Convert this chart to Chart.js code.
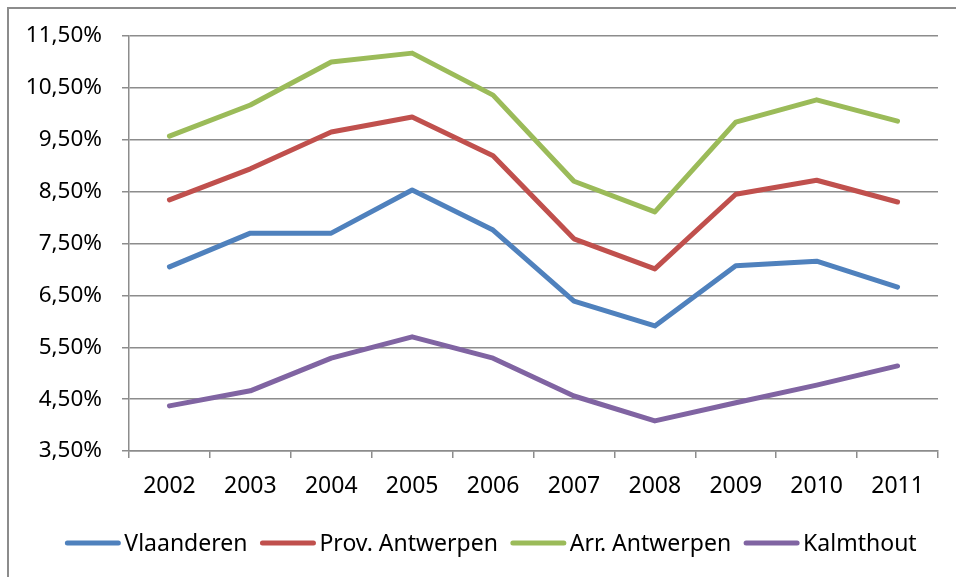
<!DOCTYPE html>
<html>
<head>
<meta charset="utf-8">
<script src="https://cdn.jsdelivr.net/npm/chart.js@4.4.1/dist/chart.umd.min.js"></script>
<style>
  html, body { margin: 0; padding: 0; background: #fff; }
  #wrap { position: relative; width: 956px; height: 577px; overflow: hidden; }
  #frame { position: absolute; left: 7px; top: 7px; width: 2000px; height: 2000px;
           border-left: 2px solid #8c8c8c; border-top: 2px solid #8c8c8c; box-sizing: border-box; }
  canvas { position: absolute; left: 0; top: 0; }
</style>
</head>
<body>
<div id="wrap">
  <div id="frame"></div>
  <canvas id="c" width="956" height="577"></canvas>
</div>
<script>
const categories = ['2002','2003','2004','2005','2006','2007','2008','2009','2010','2011'];
const seriesNames = ['Vlaanderen','Prov. Antwerpen','Arr. Antwerpen','Kalmthout'];
const vlaanderen   = [7.05, 7.70, 7.70, 8.53, 7.76, 6.39, 5.91, 7.07, 7.16, 6.66];
const provAntwerpen = [8.34, 8.94, 9.65, 9.94, 9.19, 7.59, 7.01, 8.45, 8.72, 8.30];
const arrAntwerpen = [9.57, 10.17, 11.00, 11.17, 10.36, 8.70, 8.11, 9.84, 10.27, 9.86];
const kalmthout    = [4.37, 4.66, 5.29, 5.70, 5.29, 4.56, 4.08, 4.43, 4.77, 5.14];
const yTicks = [3.5, 4.5, 5.5, 6.5, 7.5, 8.5, 9.5, 10.5, 11.5];
const colors = ['#4F81BD', '#C0504D', '#9BBB59', '#8064A2'];

const FONT = '"Noto Sans", "Open Sans", sans-serif';
const FS = 23;
const GRID = '#8c8c8c';

const values = [vlaanderen, provAntwerpen, arrAntwerpen, kalmthout];
const datasets = values.map((v, i) => ({
  label: seriesNames[i],
  data: v,
  borderColor: colors[i],
  backgroundColor: colors[i],
  borderWidth: 5,
  pointRadius: 0,
  pointHoverRadius: 0,
  tension: 0,
  fill: false,
  borderCapStyle: 'round',
  borderJoinStyle: 'round'
}));

const legendPlugin = {
  id: 'customLegend',
  afterDraw(chart) {
    const ctx = chart.ctx;
    ctx.save();
    ctx.font = FS + 'px ' + FONT;
    const lineLen = 55, gap1 = 4, gap2 = 13;
    const items = chart.data.datasets.map(d => ({ label: d.label, color: d.borderColor, w: ctx.measureText(d.label).width }));
    let total = 0;
    items.forEach((it, i) => { total += lineLen + gap1 + it.w + (i < items.length - 1 ? gap2 : 0); });
    let x = 491 - total / 2;
    const y = 543;
    items.forEach(it => {
      ctx.strokeStyle = it.color;
      ctx.lineWidth = 5;
      ctx.lineCap = 'round';
      ctx.beginPath();
      ctx.moveTo(x + 2, y);
      ctx.lineTo(x + lineLen - 2, y);
      ctx.stroke();
      x += lineLen + gap1;
      ctx.fillStyle = '#000';
      ctx.textBaseline = 'middle';
      ctx.textAlign = 'left';
      ctx.fillText(it.label, x, y + 1);
      x += it.w + gap2;
    });
    ctx.restore();
  }
};

new Chart(document.getElementById('c'), {
  type: 'line',
  data: { labels: categories, datasets },
  options: {
    responsive: false,
    animation: false,
    events: [],
    layout: { padding: { top: 36, right: 18, left: 0, bottom: 0 } },
    plugins: { legend: { display: false }, tooltip: { enabled: false }, title: { display: false } },
    scales: {
      x: {
        offset: true,
        grid: { offset: true, drawOnChartArea: false, drawTicks: true, tickLength: 7, color: GRID, lineWidth: 1.5 },
        border: { display: true, color: GRID, width: 1.5 },
        ticks: { color: '#000', font: { family: FONT, size: FS }, padding: 15, maxRotation: 0, autoSkip: false },
        afterFit(scale) { scale.height = 577 - 451; }
      },
      y: {
        min: 3.5,
        max: 11.5,
        afterBuildTicks(scale) { scale.ticks = yTicks.map(v => ({ value: v })); },
        grid: { color: GRID, lineWidth: 1.5, tickLength: 7, drawTicks: true },
        border: { display: true, color: GRID, width: 1.5 },
        ticks: {
          color: '#000', font: { family: FONT, size: 22.5 }, padding: 20,
          callback: v => v.toFixed(2).replace('.', ',') + '%'
        },
        afterFit(scale) { scale.width = 129; }
      }
    }
  },
  plugins: [legendPlugin]
});
</script>
</body>
</html>
